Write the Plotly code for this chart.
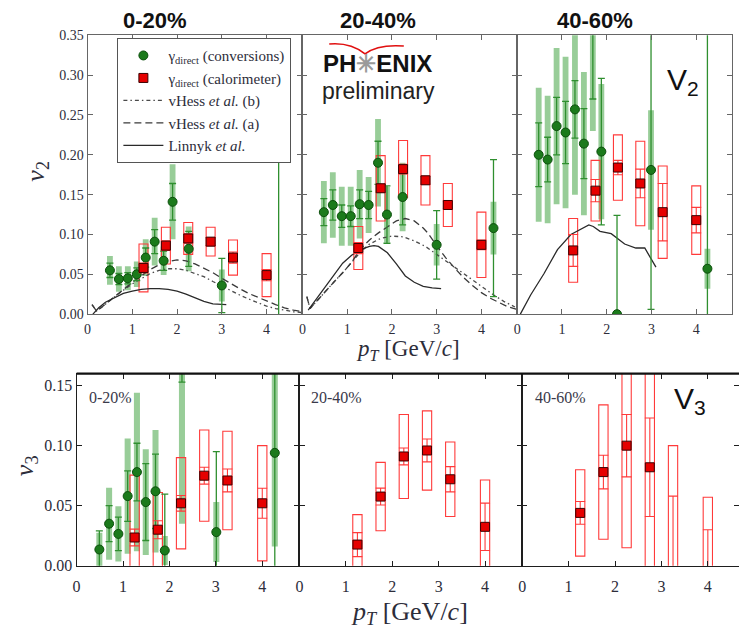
import plotly.graph_objects as go

W, H = 739, 642

# ---------------- DATA ----------------
# v2, 0-20 %
v2_020_conv_x = [0.5, 0.7, 0.9, 1.1, 1.3, 1.5, 1.7, 1.9, 2.26, 3.0, 4.27]
v2_020_conv_y = [0.055, 0.044, 0.045, 0.050, 0.071, 0.091, 0.067, 0.141, 0.082, 0.036, -0.10]
v2_020_conv_stat = [0.009, 0.007, 0.007, 0.008, 0.012, 0.015, 0.012, 0.023, 0.022, 0.034, 0.305]
v2_020_conv_sys = [0.018, 0.016, 0.015, 0.016, 0.023, 0.030, 0.018, 0.047, 0.028, 0.02, 0.0]
v2_020_calo_x = [1.25, 1.75, 2.25, 2.75, 3.25, 4.0]
v2_020_calo_y = [0.058, 0.086, 0.095, 0.091, 0.071, 0.049]
v2_020_calo_stat = [0.006, 0.006, 0.006, 0.005, 0.007, 0.007]
v2_020_calo_sys = [0.030, 0.023, 0.020, 0.018, 0.022, 0.027]
v2_020_linnyk_x = [0.12, 0.25, 0.4, 0.6, 0.8, 1.0, 1.2, 1.4, 1.6, 1.8, 2.0, 2.2, 2.4, 2.6, 2.8, 3.0, 3.1]
v2_020_linnyk_y = [0.0, 0.008, 0.015, 0.021, 0.026, 0.029, 0.031, 0.032, 0.032, 0.031, 0.029, 0.025, 0.020, 0.016, 0.013, 0.012, 0.012]
v2_020_hessa_x = [0.1, 0.2, 0.3, 0.5, 0.7, 1.0, 1.2, 1.4, 1.6, 1.8, 2.0, 2.2, 2.4, 2.6, 2.8, 3.0, 3.2, 3.4, 3.6, 3.8, 4.0, 4.2, 4.4, 4.6, 4.8]
v2_020_hessa_y = [0.012, 0.004, 0.008, 0.017, 0.027, 0.040, 0.048, 0.056, 0.062, 0.066, 0.068, 0.067, 0.063, 0.058, 0.052, 0.045, 0.038, 0.032, 0.026, 0.021, 0.016, 0.012, 0.008, 0.005, 0.003]
v2_020_hessb_x = [0.1, 0.2, 0.3, 0.5, 0.7, 1.0, 1.2, 1.4, 1.6, 1.8, 2.0, 2.2, 2.4, 2.6, 2.8, 3.0, 3.2, 3.4, 3.6, 3.8, 4.0, 4.2, 4.4, 4.6, 4.8]
v2_020_hessb_y = [0.012, 0.004, 0.008, 0.017, 0.026, 0.038, 0.045, 0.051, 0.055, 0.057, 0.057, 0.055, 0.051, 0.047, 0.041, 0.035, 0.029, 0.024, 0.019, 0.014, 0.010, 0.007, 0.005, 0.003, 0.002]

# v2, 20-40 %
v2_2040_conv_x = [0.48, 0.68, 0.88, 1.08, 1.28, 1.48, 1.69, 1.89, 2.24, 3.0, 4.27]
v2_2040_conv_y = [0.128, 0.137, 0.123, 0.123, 0.138, 0.137, 0.190, 0.125, 0.147, 0.087, 0.108]
v2_2040_conv_stat = [0.017, 0.019, 0.014, 0.013, 0.018, 0.017, 0.027, 0.036, 0.035, 0.043, 0.086]
v2_2040_conv_sys = [0.039, 0.041, 0.037, 0.037, 0.043, 0.035, 0.055, 0.035, 0.043, 0.026, 0.033]
v2_2040_calo_x = [1.25, 1.75, 2.25, 2.75, 3.25, 4.0]
v2_2040_calo_y = [0.083, 0.158, 0.182, 0.168, 0.137, 0.087]
v2_2040_calo_stat = [0.007, 0.005, 0.006, 0.005, 0.005, 0.006]
v2_2040_calo_sys = [0.027, 0.041, 0.036, 0.031, 0.027, 0.041]
v2_2040_linnyk_x = [0.13, 0.3, 0.5, 0.7, 0.9, 1.1, 1.3, 1.5, 1.6, 1.7, 1.9, 2.1, 2.3, 2.5, 2.7, 2.9, 3.1]
v2_2040_linnyk_y = [0.005, 0.018, 0.034, 0.050, 0.064, 0.074, 0.081, 0.085, 0.086, 0.085, 0.077, 0.063, 0.048, 0.040, 0.035, 0.033, 0.032]
v2_2040_hessa_x = [0.1, 0.17, 0.3, 0.5, 0.7, 0.9, 1.1, 1.3, 1.5, 1.7, 1.9, 2.1, 2.3, 2.5, 2.7, 2.8, 3.0, 3.2, 3.4, 3.6, 3.8, 4.0, 4.2, 4.4, 4.6, 4.8]
v2_2040_hessa_y = [0.022, 0.007, 0.015, 0.028, 0.040, 0.052, 0.065, 0.082, 0.093, 0.102, 0.110, 0.117, 0.120, 0.117, 0.108, 0.102, 0.086, 0.071, 0.058, 0.046, 0.036, 0.027, 0.020, 0.014, 0.009, 0.006]
v2_2040_hessb_x = [0.1, 0.17, 0.3, 0.5, 0.7, 0.9, 1.1, 1.3, 1.5, 1.75, 2.0, 2.25, 2.5, 2.75, 3.0, 3.25, 3.5, 3.75, 4.0, 4.25, 4.5, 4.75]
v2_2040_hessb_y = [0.022, 0.007, 0.015, 0.028, 0.040, 0.052, 0.065, 0.078, 0.088, 0.095, 0.098, 0.097, 0.092, 0.085, 0.075, 0.065, 0.055, 0.044, 0.034, 0.025, 0.016, 0.009]

# v2, 40-60 %
v2_4060_conv_x = [0.48, 0.68, 0.88, 1.08, 1.29, 1.49, 1.69, 1.88, 2.23, 2.99, 4.25]
v2_4060_conv_y = [0.200, 0.194, 0.236, 0.228, 0.257, 0.214, 0.40, 0.204, 0.0, 0.181, 0.057]
v2_4060_conv_stat = [0.040, 0.028, 0.036, 0.039, 0.036, 0.044, 0.13, 0.092, 0.124, 0.175, 0.5]
v2_4060_conv_sys = [0.084, 0.080, 0.098, 0.095, 0.107, 0.090, 0.17, 0.085, 0.0, 0.075, 0.025]
v2_4060_calo_x = [1.25, 1.75, 2.25, 2.75, 3.25, 4.0]
v2_4060_calo_y = [0.080, 0.155, 0.184, 0.164, 0.128, 0.118]
v2_4060_calo_stat = [0.020, 0.014, 0.009, 0.018, 0.036, 0.016]
v2_4060_calo_sys = [0.040, 0.038, 0.041, 0.053, 0.058, 0.043]
v2_4060_linnyk_x = [0.07, 0.3, 0.6, 0.9, 1.2, 1.4, 1.6, 1.7, 1.85, 2.1, 2.4, 2.65, 2.85, 3.1]
v2_4060_linnyk_y = [0.0, 0.024, 0.051, 0.081, 0.100, 0.106, 0.112, 0.110, 0.104, 0.101, 0.088, 0.083, 0.083, 0.059]

# v3, 0-20 %
v3_020_conv_x = [0.49, 0.70, 0.90, 1.10, 1.30, 1.49, 1.70, 1.90, 2.27, 3.01, 4.27]
v3_020_conv_y = [0.0135, 0.035, 0.0265, 0.058, 0.078, 0.053, 0.062, 0.0127, 0.19, 0.028, 0.094]
v3_020_conv_stat = [0.0155, 0.015, 0.014, 0.021, 0.024, 0.032, 0.031, 0.047, 0.037, 0.067, 0.2]
v3_020_conv_sys = [0.014, 0.030, 0.023, 0.048, 0.066, 0.044, 0.051, 0.012, 0.155, 0.025, 0.078]
v3_020_calo_x = [1.25, 1.75, 2.25, 2.75, 3.25, 4.0]
v3_020_calo_y = [0.0235, 0.030, 0.052, 0.075, 0.071, 0.052]
v3_020_calo_stat = [0.007, 0.0075, 0.0065, 0.007, 0.0095, 0.0125]
v3_020_calo_sys = [0.052, 0.031, 0.038, 0.038, 0.041, 0.048]

# v3, 20-40 %
v3_2040_calo_x = [1.25, 1.75, 2.25, 2.75, 3.25, 4.0]
v3_2040_calo_y = [0.0176, 0.0576, 0.091, 0.096, 0.072, 0.0324]
v3_2040_calo_stat = [0.010, 0.007, 0.007, 0.0095, 0.0105, 0.0197]
v3_2040_calo_sys = [0.025, 0.0285, 0.035, 0.033, 0.031, 0.039]

# v3, 40-60 %
v3_4060_calo_x = [1.25, 1.75, 2.25, 2.75, 3.25, 4.0]
v3_4060_calo_y = [0.044, 0.078, 0.100, 0.082, -0.012, -0.02]
v3_4060_calo_stat = [0.0095, 0.014, 0.026, 0.041, 0.07, 0.05]
v3_4060_calo_sys = [0.036, 0.056, 0.085, 0.095, 0.112, 0.077]

centralities = ["0-20%", "20-40%", "40-60%"]
x_ticks = [0, 1, 2, 3, 4]
v2_ticks = [0.0, 0.05, 0.10, 0.15, 0.20, 0.25, 0.30, 0.35]
v3_ticks = [0.0, 0.05, 0.10, 0.15]

# ---------------- FIGURE ----------------
fig = go.Figure()

SERIF = "Liberation Serif"
SANS = "Liberation Sans"
TXT = "#2d2d3a"


def px_x(p):
    return p / W


def px_y(p):
    return 1 - p / H


def ax_names(i):
    return ("x" if i == 1 else f"x{i}"), ("y" if i == 1 else f"y{i}")


def add_conv(i, x, y, stat, sys, legend=False):
    xa, ya = ax_names(i)
    fig.add_trace(go.Bar(
        x=x, y=[2 * s for s in sys], base=[v - s for v, s in zip(y, sys)], width=0.13,
        marker=dict(color="rgba(40,150,40,0.48)", line=dict(width=0)),
        xaxis=xa, yaxis=ya, showlegend=False, hoverinfo="skip"))
    fig.add_trace(go.Scatter(
        x=x, y=y, mode="markers", xaxis=xa, yaxis=ya,
        name="γ<sub>direct</sub> (conversions)", showlegend=legend, legendrank=1,
        marker=dict(symbol="circle", size=9, color="#1b7a1b", line=dict(color="#0c4f0c", width=1)),
        error_y=dict(type="data", array=stat, color="#2f8f2f", thickness=1.3, width=3.5)))


def add_calo(i, x, y, stat, sys, legend=False):
    xa, ya = ax_names(i)
    fig.add_trace(go.Bar(
        x=x, y=[2 * s for s in sys], base=[v - s for v, s in zip(y, sys)], width=0.2,
        marker=dict(color="rgba(255,255,255,0)", line=dict(color="#ff3a3a", width=1.1)),
        xaxis=xa, yaxis=ya, showlegend=False, hoverinfo="skip"))
    fig.add_trace(go.Scatter(
        x=x, y=y, mode="markers", xaxis=xa, yaxis=ya,
        name="γ<sub>direct</sub> (calorimeter)", showlegend=legend, legendrank=2,
        marker=dict(symbol="square", size=9, color="#e60000", line=dict(color="#3a0000", width=1)),
        error_y=dict(type="data", array=stat, color="#ff3a3a", thickness=1.1, width=5)))


def add_line(i, x, y, kind, legend=False):
    xa, ya = ax_names(i)
    if kind == "linnyk":
        name, dash, col, rank = "Linnyk <i>et al.</i>", "solid", "#2a2a2a", 5
    elif kind == "a":
        name, dash, col, rank = "vHess <i>et al.</i> (a)", "7px,4px", "#3a3a3a", 4
    else:
        name, dash, col, rank = "vHess <i>et al.</i> (b)", "4px,3px,1.5px,3px", "#4a4a4a", 3
    fig.add_trace(go.Scatter(
        x=x, y=y, mode="lines", xaxis=xa, yaxis=ya, name=name, showlegend=legend,
        legendrank=rank, line=dict(color=col, width=1.3, dash=dash)))


# theory curves first (beneath markers)
add_line(1, v2_020_hessb_x, v2_020_hessb_y, "b", True)
add_line(1, v2_020_hessa_x, v2_020_hessa_y, "a", True)
add_line(1, v2_020_linnyk_x, v2_020_linnyk_y, "linnyk", True)
add_line(2, v2_2040_hessb_x, v2_2040_hessb_y, "b")
add_line(2, v2_2040_hessa_x, v2_2040_hessa_y, "a")
add_line(2, v2_2040_linnyk_x, v2_2040_linnyk_y, "linnyk")
add_line(3, v2_4060_linnyk_x, v2_4060_linnyk_y, "linnyk")

add_conv(1, v2_020_conv_x, v2_020_conv_y, v2_020_conv_stat, v2_020_conv_sys, True)
add_calo(1, v2_020_calo_x, v2_020_calo_y, v2_020_calo_stat, v2_020_calo_sys, True)
add_conv(2, v2_2040_conv_x, v2_2040_conv_y, v2_2040_conv_stat, v2_2040_conv_sys)
add_calo(2, v2_2040_calo_x, v2_2040_calo_y, v2_2040_calo_stat, v2_2040_calo_sys)
add_conv(3, v2_4060_conv_x, v2_4060_conv_y, v2_4060_conv_stat, v2_4060_conv_sys)
add_calo(3, v2_4060_calo_x, v2_4060_calo_y, v2_4060_calo_stat, v2_4060_calo_sys)
add_conv(4, v3_020_conv_x, v3_020_conv_y, v3_020_conv_stat, v3_020_conv_sys)
add_calo(4, v3_020_calo_x, v3_020_calo_y, v3_020_calo_stat, v3_020_calo_sys)
add_calo(5, v3_2040_calo_x, v3_2040_calo_y, v3_2040_calo_stat, v3_2040_calo_sys)
add_calo(6, v3_4060_calo_x, v3_4060_calo_y, v3_4060_calo_stat, v3_4060_calo_sys)

# ---------------- AXES ----------------
top_x = [(84, 300), (300, 516), (516, 732)]
top_y = (29, 315)
bot_x = [(73, 297), (297, 521), (521, 739)]
bot_y = (376, 573)
px_per_unit_bot = (297 - 73) / 4.8

layout_axes = {}
for k in range(6):
    i = k + 1
    top = k < 3
    xd = top_x[k] if top else bot_x[k - 3]
    yd = top_y if top else bot_y
    xr = [0, 4.8]
    if k == 5:
        xr = [0, (739 - 521) / px_per_unit_bot]
    lc = "#666" if top else "#1e1e1e"
    lw = 1 if top else 1.3
    fs = 14 if top else 16
    xkey = "xaxis" if i == 1 else f"xaxis{i}"
    ykey = "yaxis" if i == 1 else f"yaxis{i}"
    layout_axes[xkey] = dict(
        domain=[px_x(xd[0]), px_x(xd[1])], range=xr, anchor=ax_names(i)[1],
        tickvals=x_ticks, ticktext=[str(t) for t in x_ticks],
        ticks="inside", ticklen=5, tickcolor=lc, showline=True, linecolor=lc, linewidth=lw,
        mirror="ticks", showgrid=False, zeroline=False,
        tickfont=dict(family=SERIF, size=fs, color=TXT),
        ticklabelstandoff=(2 if top else 6))
    first = k in (0, 3)
    layout_axes[ykey] = dict(
        domain=[px_y(yd[1]), px_y(yd[0])], range=[0, 0.35] if top else [0, 0.16],
        anchor=ax_names(i)[0], tickvals=v2_ticks if top else v3_ticks,
        ticktext=[f"{t:.2f}" for t in (v2_ticks if top else v3_ticks)],
        showticklabels=first,
        ticks="inside", ticklen=5, tickcolor=lc, showline=True, linecolor=lc, linewidth=lw,
        mirror=("ticks" if k != 5 else False), showgrid=False, zeroline=False,
        tickfont=dict(family=SERIF, size=fs, color=TXT))

# right-hand ticks (no frame line) for the clipped last v3 panel
layout_axes["yaxis7"] = dict(
    overlaying="y6", side="right", anchor="x6", range=[0, 0.16], tickvals=v3_ticks,
    showticklabels=False, ticks="inside", ticklen=5, tickcolor="#1e1e1e",
    showline=False, showgrid=False, zeroline=False)
fig.add_trace(go.Scatter(x=[], y=[], xaxis="x6", yaxis="y7", showlegend=False))

fig.update_layout(**layout_axes)

# ---------------- TEXT ----------------
ann = []


def text(xp, yp, t, font, xanchor="center", angle=0):
    ann.append(dict(x=px_x(xp), y=px_y(yp), xref="paper", yref="paper", text=t,
                    xanchor=xanchor, yanchor="middle", textangle=angle,
                    showarrow=False, font=font))


title_pos = [152, 376, 594]
for c, xp in zip(centralities, title_pos):
    text(xp, 14, f"<b>{c}</b>", dict(family=SANS, size=22, color="#111"))
inner_pos = [83, 307, 532]
for c, xp in zip(centralities, inner_pos):
    text(xp, 400, c, dict(family=SERIF, size=16, color="#3a3a4a"), xanchor="left")
text(406, 352, "<i>p<sub>T</sub></i> [GeV/<i>c</i>]", dict(family=SERIF, size=23, color=TXT))
text(408, 622, "<i>p<sub>T</sub></i> [GeV/<i>c</i>]", dict(family=SERIF, size=26, color=TXT))
text(33, 168, "<i>v</i><sub>2</sub>", dict(family=SERIF, size=26, color=TXT), angle=-90)
text(22, 470, "<i>v</i><sub>3</sub>", dict(family=SERIF, size=26, color=TXT), angle=-90)
text(683, 76, "V<sub>2</sub>", dict(family=SANS, size=30, color="#111"))
text(690, 404, "V<sub>3</sub>", dict(family=SANS, size=30, color="#111"))
text(376, 58, "<b>PH<span style='color:#9a9a9a'>✳</span>ENIX</b>", dict(family=SANS, size=24, color="#111"))
text(377, 86, "preliminary", dict(family=SANS, size=23, color="#222"))
fig.update_layout(annotations=ann)

# red arc of the logo and the heavy top frame of the v3 row
arc = (f"M {px_x(327)},{px_y(38)} Q {px_x(348)},{px_y(36)} {px_x(363)},{px_y(48)} "
       f"Q {px_x(376)},{px_y(38)} {px_x(402)},{px_y(40)}")
fig.update_layout(shapes=[
    dict(type="path", path=arc, xref="paper", yref="paper", line=dict(color="#e01010", width=1.6)),
    dict(type="line", xref="paper", yref="paper", x0=px_x(73), x1=1, y0=px_y(376), y1=px_y(376),
         line=dict(color="#111", width=2.2)),
])

fig.update_layout(
    width=W, height=H, autosize=False,
    margin=dict(l=0, r=0, t=0, b=0),
    paper_bgcolor="white", plot_bgcolor="white",
    barmode="overlay",
    legend=dict(x=px_x(114), y=px_y(32), xanchor="left", yanchor="top",
                bgcolor="white", bordercolor="#555", borderwidth=1,
                font=dict(family=SERIF, size=15, color=TXT), traceorder="normal",
                itemwidth=40, tracegroupgap=0),
)

fig.write_html("out.html", config={"displayModeBar": False},
               post_script="document.body.style.margin='0';")
